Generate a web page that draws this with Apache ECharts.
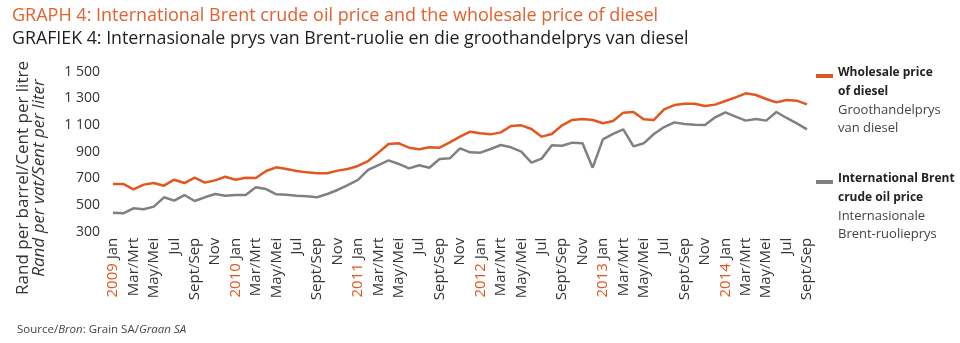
<!DOCTYPE html>
<html>
<head>
<meta charset="utf-8">
<script src="https://cdn.jsdelivr.net/npm/echarts@6/dist/echarts.min.js"></script>
<style>
  html, body { margin: 0; padding: 0; background: #ffffff; }
  #chart { width: 960px; height: 343px; }
</style>
</head>
<body>
<div id="chart"></div>
<script>
// Monthly axis: Jan 2009 – Sept 2014, every second month labelled
const years = [2009, 2010, 2011, 2012, 2013, 2014];
const monthNames = ['Jan', 'Feb', 'Mar/Mrt', 'Apr', 'May/Mei', 'Jun', 'Jul', 'Aug', 'Sept/Sep', 'Oct', 'Nov', 'Dec'];
const lastMonthIndex = 8; // Sept 2014

// Wholesale price of diesel (c/litre)
const dieselPrice = [
  658, 658, 618, 653, 665, 645, 690, 665, 705, 668, 685, 712,
  690, 705, 703, 755, 783, 770, 755, 745, 738, 738, 758, 770,
  793, 830, 893, 958, 963, 930, 918, 933, 930, 970, 1013, 1050,
  1038, 1030, 1045, 1093, 1098, 1070, 1013, 1033, 1098, 1138, 1145, 1138,
  1113, 1130, 1193, 1198, 1143, 1138, 1218, 1250, 1260, 1260, 1243, 1253,
  1280, 1308, 1338, 1325, 1295, 1270, 1288, 1283, 1255
];

// International Brent crude oil price (R/barrel)
const brentPrice = [
  442, 438, 475, 468, 488, 558, 533, 575, 530, 558, 583, 570,
  575, 575, 633, 620, 580, 577, 570, 565, 558, 583, 613, 650,
  688, 763, 800, 835, 808, 775, 798, 780, 845, 850, 925, 895,
  893, 920, 950, 933, 900, 818, 848, 948, 945, 968, 963, 780,
  993, 1033, 1068, 940, 963, 1033, 1085, 1120, 1108, 1103, 1100, 1158,
  1195, 1163, 1133, 1145, 1133, 1198, 1153, 1113, 1068
];

const yMin = 300, yMax = 1500, yStep = 200;

const orange = '#e2561f';
const grey = '#808080';
const font = 'Open Sans';

const categories = [];
years.forEach(y => {
  monthNames.forEach((m, i) => {
    if (y === 2014 && i > lastMonthIndex) return;
    categories.push(m + ' ' + y);
  });
});

const legendItems = [
  { color: orange, bold: ['Wholesale price', 'of diesel'], plain: ['Groothandelprys', 'van diesel'], top: 76 },
  { color: grey, bold: ['International Brent', 'crude oil price'], plain: ['Internasionale', 'Brent-ruolieprys'], top: 182 }
];

const legendGraphics = [];
legendItems.forEach(item => {
  legendGraphics.push({
    type: 'rect', left: 816, top: item.top - 2,
    shape: { width: 17, height: 4 },
    style: { fill: item.color }
  });
  const lines = item.bold.map(t => '{b|' + t + '}').concat(item.plain.map(t => '{p|' + t + '}'));
  legendGraphics.push({
    type: 'text', left: 838, top: item.top - 9,
    style: {
      text: lines.join('\n'),
      rich: {
        b: { fontFamily: font, fontSize: 12, fontWeight: 'bold', fill: '#222', lineHeight: 18.5 },
        p: { fontFamily: font, fontSize: 13, fill: '#444', lineHeight: 18.5 }
      }
    }
  });
});

const chart = echarts.init(document.getElementById('chart'), null, { renderer: 'canvas' });
chart.setOption({
  backgroundColor: '#ffffff',
  animation: false,
  title: [
    {
      text: 'GRAPH 4: International Brent crude oil price and the wholesale price of diesel',
      left: 7, top: 2,
      textStyle: { fontFamily: font, fontSize: 18, fontWeight: 'normal', color: '#e4602e' }
    },
    {
      text: 'GRAFIEK 4: Internasionale prys van Brent-ruolie en die groothandelprys van diesel',
      left: 7, top: 25,
      textStyle: { fontFamily: font, fontSize: 17.8, fontWeight: 'normal', color: '#1e1e1e' }
    },
    {
      text: 'Source/{i|Bron}: Grain SA/{i|Graan SA}',
      left: 12, top: 319,
      textStyle: {
        fontFamily: font, fontSize: 11.5, fontWeight: 'normal', color: '#444',
        rich: { i: { fontFamily: font, fontSize: 11.5, fontStyle: 'italic', color: '#444' } }
      }
    }
  ],
  grid: { left: 113, right: 153, top: 71.7, bottom: 111.3, containLabel: false },
  xAxis: {
    type: 'category',
    data: categories,
    boundaryGap: false,
    axisLine: { show: false },
    axisTick: { show: false },
    splitLine: { show: false },
    axisLabel: {
      interval: 1,
      rotate: 90,
      margin: 6,
      fontFamily: font,
      fontSize: 15,
      color: '#333',
      formatter: function (value) {
        const sp = value.lastIndexOf(' ');
        const m = value.slice(0, sp), y = value.slice(sp + 1);
        return m === 'Jan' ? '{y|' + y + '} Jan' : m;
      },
      rich: { y: { color: orange, fontFamily: font, fontSize: 15 } }
    }
  },
  yAxis: {
    type: 'value',
    min: yMin, max: yMax, interval: yStep,
    axisLine: { show: false },
    axisTick: { show: false },
    splitLine: { show: false },
    axisLabel: {
      margin: 13,
      fontFamily: font,
      fontSize: 14,
      color: '#333',
      formatter: v => v >= 1000 ? Math.floor(v / 1000) + ' ' + String(v % 1000).padStart(3, '0') : String(v)
    }
  },
  graphic: [
    {
      type: 'text', x: 31, y: 178, rotation: Math.PI / 2,
      style: {
        text: '{a|Rand per barrel/Cent per litre}\n{b|Rand per vat/Sent per liter}',
        align: 'center', verticalAlign: 'middle',
        rich: {
          a: { fontFamily: font, fontSize: 17, fill: '#333', lineHeight: 16, align: 'center' },
          b: { fontFamily: font, fontSize: 17, fontStyle: 'italic', fill: '#333', lineHeight: 16, align: 'center' }
        }
      }
    }
  ].concat(legendGraphics),
  series: [
    {
      name: 'International Brent crude oil price',
      type: 'line', data: brentPrice, showSymbol: false,
      lineStyle: { color: grey, width: 2.5 }, itemStyle: { color: grey }
    },
    {
      name: 'Wholesale price of diesel',
      type: 'line', data: dieselPrice, showSymbol: false,
      lineStyle: { color: orange, width: 2.5 }, itemStyle: { color: orange }
    }
  ]
});
</script>
</body>
</html>
